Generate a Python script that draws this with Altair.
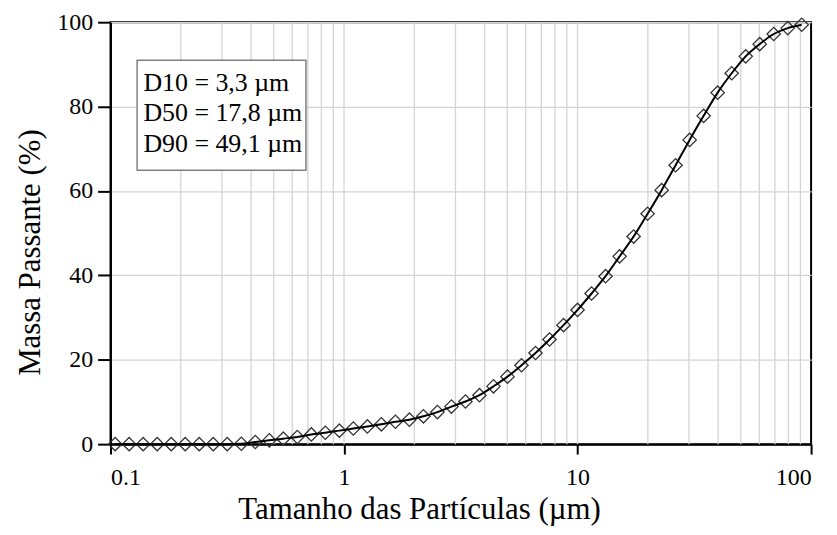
import altair as alt
import pandas as pd

# particle sizes (µm) and cumulative passing mass (%)
sizes = [0.1047, 0.1202, 0.1380, 0.1585, 0.1820, 0.2089, 0.2399, 0.2754, 0.3162, 0.3631,
         0.4169, 0.4786, 0.5495, 0.6310, 0.7244, 0.8318, 0.9550, 1.096, 1.259, 1.445,
         1.660, 1.905, 2.188, 2.512, 2.884, 3.311, 3.802, 4.365, 5.012, 5.754,
         6.607, 7.586, 8.710, 10.00, 11.48, 13.18, 15.14, 17.38, 19.95, 22.91,
         26.30, 30.20, 34.67, 39.81, 45.71, 52.48, 60.26, 69.18, 79.43, 91.20]
passing = [0, 0, 0, 0, 0, 0, 0, 0, 0, 0.1,
           0.5, 0.9, 1.3, 1.7, 2.3, 2.7, 3.2, 3.7, 4.2, 4.7,
           5.3, 5.8, 6.6, 7.6, 8.9, 10.1, 11.6, 13.7, 16.0, 18.7,
           21.6, 24.8, 28.2, 31.8, 35.7, 39.8, 44.5, 49.2, 54.6, 60.2,
           66.1, 72.1, 77.8, 83.3, 87.9, 91.9, 94.8, 97.2, 98.6, 99.4]

x_major = [0.1, 1, 10, 100]
x_grid = [0.2, 0.3, 0.4, 0.5, 0.6, 0.7, 0.8, 0.9, 1,
          2, 3, 4, 5, 6, 7, 8, 9, 10,
          20, 30, 40, 50, 60, 70, 80, 90]
y_ticks = [0, 20, 40, 60, 80, 100]

box_lines = ["D10 = 3,3 µm", "D50 = 17,8 µm", "D90 = 49,1 µm"]
box_line_y = [83.8, 76.5, 69.2]
box_x = [0.1383]
box_extent = {"x0": [0.130], "x1": [0.687], "y0": [64.9], "y1": [91.0]}

FONT = "Liberation Serif"

df = pd.DataFrame({"size": sizes, "passing": passing})
grid_df = pd.DataFrame({"g": x_grid})
text_df = pd.DataFrame({"label": box_lines, "yy": box_line_y, "xx": box_x * len(box_lines)})
box_df = pd.DataFrame(box_extent)

xscale = alt.Scale(type="log", domain=[0.1, 100], nice=False)
yscale = alt.Scale(domain=[0, 100], nice=False)

xaxis = alt.Axis(values=x_major, format="~g", grid=False, tickSize=10, tickWidth=2,
                 tickColor="black", domainColor="black", domainWidth=2,
                 labelFont=FONT, labelFontSize=24, labelColor="black", labelPadding=12,
                 title="Tamanho das Partículas (µm)", titleFont=FONT, titleFontSize=31,
                 titleFontWeight="normal", titleColor="black",
                 titleX=310, titleY=75, titleBaseline="alphabetic")
yaxis = alt.Axis(values=y_ticks, grid=True, gridColor="#d4d4d4", gridWidth=1.3,
                 tickSize=13, tickWidth=2, tickColor="black", domainColor="black", domainWidth=2,
                 labelFont=FONT, labelFontSize=24, labelColor="black", labelPadding=5,
                 title="Massa Passante (%)", titleFont=FONT, titleFontSize=31,
                 titleFontWeight="normal", titleColor="black",
                 titleX=-80, titleY=231, titleBaseline="middle", titleAngle=-90)

grid = alt.Chart(grid_df).mark_rule(color="#d4d4d4", strokeWidth=1.3).encode(
    x=alt.X("g:Q", scale=xscale, axis=xaxis)
)

box = alt.Chart(box_df).mark_rect(fill="white", stroke="#808080", strokeWidth=1.5).encode(
    x=alt.X("x0:Q", scale=xscale, axis=xaxis),
    x2="x1:Q",
    y=alt.Y("y0:Q", scale=yscale, axis=yaxis),
    y2="y1:Q",
)

texts = alt.Chart(text_df).mark_text(align="left", baseline="alphabetic", font=FONT,
                                     fontSize=26, color="black").encode(
    x=alt.X("xx:Q", scale=xscale, axis=xaxis),
    y=alt.Y("yy:Q", scale=yscale, axis=yaxis),
    text="label:N",
)

points = alt.Chart(df).mark_point(shape="diamond", filled=False, size=180,
                                  stroke="#333333", strokeWidth=1.3, opacity=1).encode(
    x=alt.X("size:Q", scale=xscale, axis=xaxis),
    y=alt.Y("passing:Q", scale=yscale, axis=yaxis),
)

line = alt.Chart(df).mark_line(color="black", strokeWidth=2, interpolate="monotone").encode(
    x=alt.X("size:Q", scale=xscale, axis=xaxis),
    y=alt.Y("passing:Q", scale=yscale, axis=yaxis),
)

chart = alt.layer(grid, box, texts, points, line).properties(
    width=704, height=424,
    autosize=alt.AutoSizeParams(type="none"),
    padding={"left": 103, "top": 13, "right": 18, "bottom": 82},
    background="white",
).configure_view(stroke="black", strokeWidth=2)

chart.save("out.html", embed_options={"renderer": "svg", "actions": False})
